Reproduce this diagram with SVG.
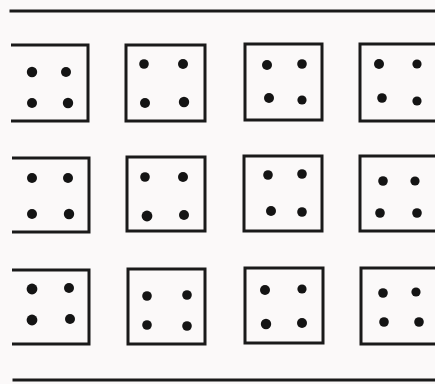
<svg xmlns="http://www.w3.org/2000/svg" width="435" height="384" viewBox="0 0 435 384">
<style>
.ln{stroke:#1a1a1a;stroke-width:3;fill:none;stroke-linecap:square}
.bx{stroke:#1a1a1a;stroke-width:3;fill:none}
.d{fill:#141414}
</style>
<rect width="435" height="384" fill="#fbf9f9"/>
<g id="rules">
<line class="ln" x1="11" y1="11" x2="435" y2="11"/>
<line class="ln" x1="14" y1="380" x2="435" y2="380"/>
</g>
<g id="r1c1"><path class="bx" d="M11 45 H88 V121 H11"/>
<circle class="d" cx="32" cy="72" r="5.2"/><circle class="d" cx="66" cy="72" r="5"/><circle class="d" cx="32" cy="103" r="5"/><circle class="d" cx="68" cy="103" r="5.2"/></g>
<g id="r1c2"><rect class="bx" x="126" y="45" width="79" height="76"/>
<circle class="d" cx="144" cy="64" r="4.8"/><circle class="d" cx="183" cy="64" r="5"/><circle class="d" cx="145" cy="103" r="5"/><circle class="d" cx="184" cy="102" r="5.2"/></g>
<g id="r1c3"><rect class="bx" x="245" y="44" width="77" height="76"/>
<circle class="d" cx="267" cy="65" r="5"/><circle class="d" cx="302" cy="64" r="4.8"/><circle class="d" cx="269" cy="98" r="5"/><circle class="d" cx="302" cy="100" r="4.6"/></g>
<g id="r1c4"><path class="bx" d="M437 44 H360 V121 H437"/>
<circle class="d" cx="379" cy="64" r="5"/><circle class="d" cx="417" cy="64" r="4.6"/><circle class="d" cx="382" cy="98" r="4.8"/><circle class="d" cx="417" cy="101" r="4.6"/></g>
<g id="r2c1"><path class="bx" d="M12 158 H89 V232 H12"/>
<circle class="d" cx="32" cy="178" r="5"/><circle class="d" cx="68" cy="178" r="5"/><circle class="d" cx="32" cy="214" r="5"/><circle class="d" cx="69" cy="214" r="5.2"/></g>
<g id="r2c2"><rect class="bx" x="127" y="157" width="78" height="74"/>
<circle class="d" cx="145" cy="177" r="4.8"/><circle class="d" cx="183" cy="177" r="5"/><circle class="d" cx="147" cy="216" r="5.4"/><circle class="d" cx="184" cy="215" r="5"/></g>
<g id="r2c3"><rect class="bx" x="244" y="156" width="78" height="75"/>
<circle class="d" cx="268" cy="175" r="4.8"/><circle class="d" cx="302" cy="174" r="4.8"/><circle class="d" cx="271" cy="211" r="5"/><circle class="d" cx="302" cy="212" r="4.8"/></g>
<g id="r2c4"><path class="bx" d="M437 156 H360 V231 H437"/>
<circle class="d" cx="383" cy="181" r="4.8"/><circle class="d" cx="415" cy="181" r="4.6"/><circle class="d" cx="380" cy="213" r="4.8"/><circle class="d" cx="417" cy="213" r="4.8"/></g>
<g id="r3c1"><path class="bx" d="M12 270 H89 V344 H12"/>
<circle class="d" cx="32" cy="289" r="5.4"/><circle class="d" cx="69" cy="288" r="5"/><circle class="d" cx="32" cy="320" r="5.4"/><circle class="d" cx="70" cy="319" r="5"/></g>
<g id="r3c2"><rect class="bx" x="128" y="269" width="77" height="75"/>
<circle class="d" cx="147" cy="296" r="4.8"/><circle class="d" cx="187" cy="295" r="4.8"/><circle class="d" cx="147" cy="325" r="4.8"/><circle class="d" cx="187" cy="326" r="4.8"/></g>
<g id="r3c3"><rect class="bx" x="245" y="268" width="78" height="75"/>
<circle class="d" cx="265" cy="290" r="5"/><circle class="d" cx="302" cy="289" r="4.6"/><circle class="d" cx="266" cy="324" r="5.2"/><circle class="d" cx="302" cy="323" r="5"/></g>
<g id="r3c4"><path class="bx" d="M437 268 H361 V344 H437"/>
<circle class="d" cx="383" cy="293" r="4.8"/><circle class="d" cx="416" cy="292" r="4.6"/><circle class="d" cx="384" cy="322" r="4.8"/><circle class="d" cx="419" cy="322" r="4.8"/></g>
<g id="connectors"/>
</svg>
